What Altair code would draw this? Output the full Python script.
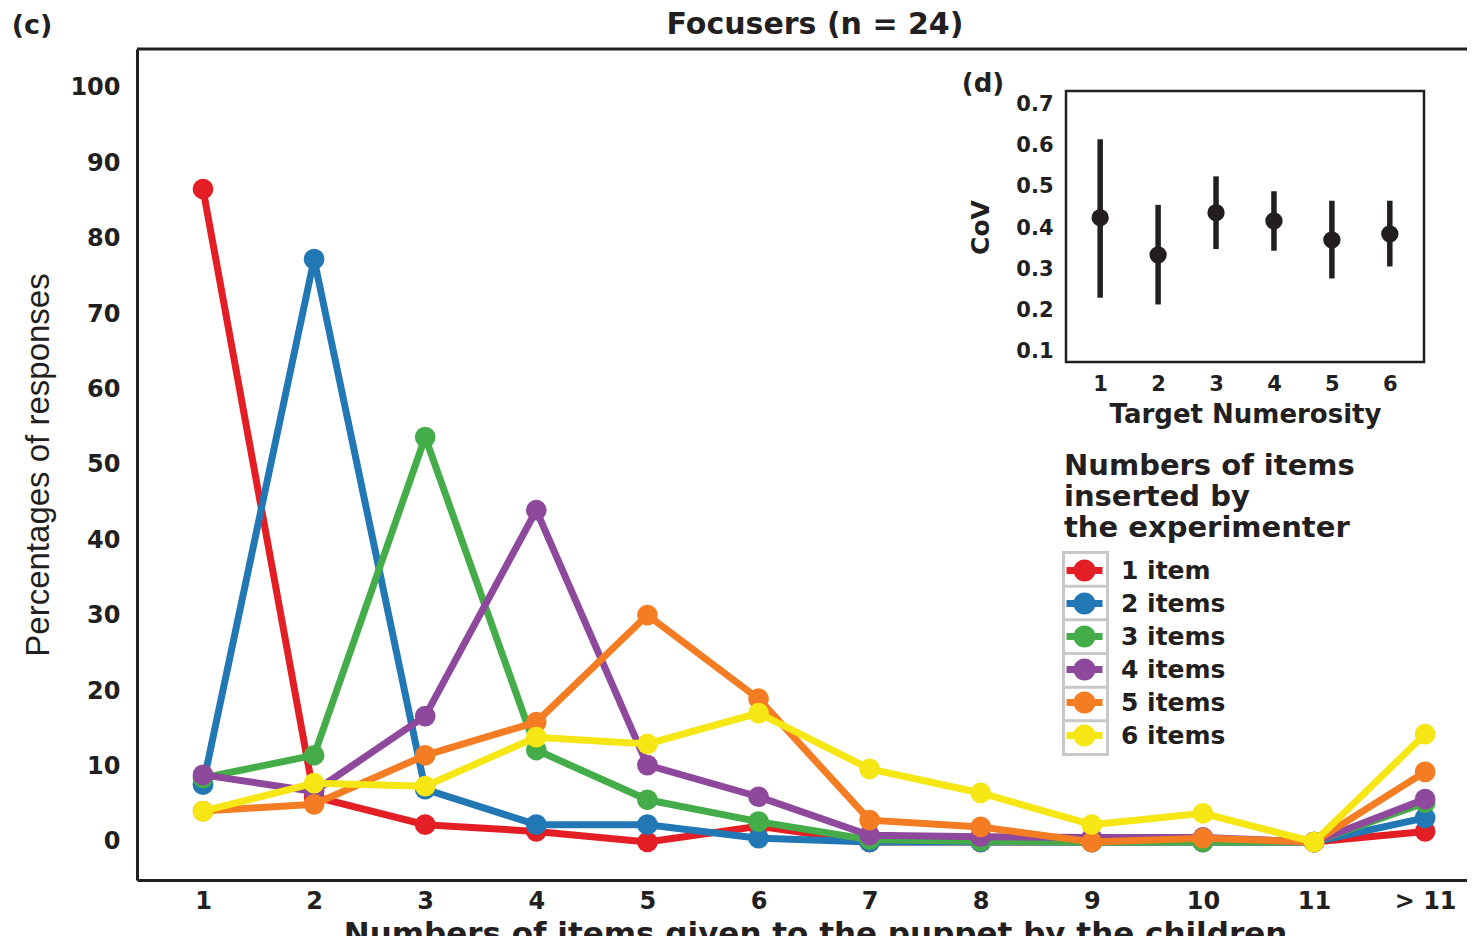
import altair as alt
import pandas as pd

# ---------------- data ----------------
X_POS = list(range(1, 13))
X_LABELS = ["1", "2", "3", "4", "5", "6", "7", "8", "9", "10", "11", "> 11"]
SERIES = ["1 item", "2 items", "3 items", "4 items", "5 items", "6 items"]
COLORS = ["#e31e24", "#2277b5", "#44ad4a", "#8e489c", "#f47d23", "#f5e614"]

ITEM1 = [86.6, 6.0, 2.3, 1.4, 0.0, 2.1, 0.0, 0.0, 0.0, 0.0, 0.0, 1.4]
ITEM2 = [7.6, 77.3, 7.0, 2.3, 2.3, 0.5, 0.0, 0.0, 0.0, 0.0, 0.0, 3.2]
ITEM3 = [8.5, 11.5, 53.7, 12.2, 5.6, 2.7, 0.3, 0.1, 0.0, 0.0, 0.0, 5.2]
ITEM4 = [8.9, 6.7, 16.7, 44.0, 10.2, 6.0, 0.9, 0.7, 0.6, 0.6, 0.0, 5.7]
ITEM5 = [4.1, 5.0, 11.5, 15.9, 30.1, 19.0, 2.9, 2.0, 0.0, 0.5, 0.0, 9.3]
ITEM6 = [4.1, 7.8, 7.4, 13.9, 13.0, 17.1, 9.7, 6.5, 2.3, 3.8, 0.0, 14.3]

COV_X = [1, 2, 3, 4, 5, 6]
COV = [0.425, 0.335, 0.437, 0.417, 0.371, 0.386]
COV_LO = [0.231, 0.215, 0.349, 0.345, 0.278, 0.307]
COV_HI = [0.615, 0.456, 0.525, 0.489, 0.466, 0.466]

# ---------------- layout constants ----------------
W, H = 1330, 831
FONT = "DejaVu Sans"
INK = "#231f20"
MAIN_X_DOMAIN = [0.406, 12.377]
MAIN_Y_DOMAIN = [-5.04, 105.17]
INSET_X_DOMAIN = [0.41, 6.59]
INSET_Y_DOMAIN = [0.0758, 0.7315]
INSET_X_RANGE = [929, 1287]
INSET_Y_RANGE = [313, 42]

rows = []
for s, vals in zip(SERIES, [ITEM1, ITEM2, ITEM3, ITEM4, ITEM5, ITEM6]):
    for xp, v in zip(X_POS, vals):
        rows.append({"series": s, "box": "legend frame", "xpos": xp, "value": v})
df = pd.DataFrame(rows)

cov_df = pd.DataFrame({"tn": COV_X, "cov": COV, "lo": COV_LO, "hi": COV_HI})
frame_df = pd.DataFrame({"fx0": [INSET_X_DOMAIN[0]], "fx1": [INSET_X_DOMAIN[1]],
                         "fy0": [INSET_Y_DOMAIN[0]], "fy1": [INSET_Y_DOMAIN[1]]})
one = pd.DataFrame({"k": [0]})

label_expr = "[" + ",".join("'%s'" % l for l in X_LABELS) + "][datum.value - 1]"

x_main_scale = alt.Scale(domain=MAIN_X_DOMAIN, nice=False, zero=False)
y_main_scale = alt.Scale(domain=MAIN_Y_DOMAIN, nice=False, zero=False)
x_main_axis = alt.Axis(values=X_POS, labelExpr=label_expr, ticks=False, grid=False,
                       domainColor=INK, domainWidth=3,
                       labelFont=FONT, labelFontSize=24, labelFontWeight="bold",
                       labelColor=INK, labelPadding=9,
                       title="Numbers of items given to the puppet by the children",
                       titleFont=FONT, titleFontSize=31, titleFontWeight="bold",
                       titleColor=INK, titleX=678, titleY=63, titleAlign="center",
                       titleBaseline="alphabetic", titleLimit=1300)
y_main_axis = alt.Axis(values=list(range(0, 101, 10)), ticks=False, grid=False,
                       domainColor=INK, domainWidth=3,
                       labelFont=FONT, labelFontSize=24, labelFontWeight="bold",
                       labelColor=INK, labelPadding=17,
                       title="Percentages of responses",
                       titleFont="Liberation Sans", titleFontSize=33,
                       titleFontWeight="normal", titleColor=INK,
                       titleX=-99, titleY=415.5, titleAngle=270,
                       titleAlign="center", titleBaseline="middle", titleLimit=800)

SYMBOL_PATH = ("M-1.5,-0.29H1.5V0.29H-1.5Z "
               "M0.92,0A0.92,0.92 0 1,1 -0.92,0A0.92,0.92 0 1,1 0.92,0Z")
# one stroked frame with dividers, drawn behind the six legend symbols
FRAME_PATH = ("M-2.2,-10.1H2.2V10.1H-2.2Z "
              "M-2.2,-6.73H2.2 M-2.2,-3.37H2.2 M-2.2,0H2.2 "
              "M-2.2,3.37H2.2 M-2.2,6.73H2.2")

color_scale = alt.Scale(domain=SERIES, range=COLORS)
color_legend = alt.Legend(
    title=["Numbers of items", "inserted by", "the experimenter"],
    orient="none", legendX=927, legendY=403, padding=0,
    titleFont=FONT, titleFontSize=29, titleFontWeight="bold", titleColor=INK,
    titleLineHeight=31, titlePadding=15, titleAnchor="start", titleLimit=500,
    labelFont=FONT, labelFontSize=25, labelFontWeight="bold", labelColor=INK,
    labelOffset=24, symbolOffset=8, symbolSize=576, symbolType=SYMBOL_PATH,
    symbolStrokeWidth=0, symbolOpacity=1, rowPadding=7, labelLimit=300,
)

main_layers = []
for s, c in zip(SERIES, COLORS):
    base = alt.Chart(df).transform_filter(alt.datum.series == s)
    main_layers.append(
        base.mark_line(strokeWidth=7, color=c).encode(
            x=alt.X("xpos:Q", scale=x_main_scale, axis=x_main_axis),
            y=alt.Y("value:Q", scale=y_main_scale, axis=y_main_axis),
        )
    )
    main_layers.append(
        base.mark_circle(size=430, opacity=1).encode(
            x=alt.X("xpos:Q", scale=x_main_scale, axis=x_main_axis),
            y=alt.Y("value:Q", scale=y_main_scale, axis=y_main_axis),
            color=alt.Color("series:N", scale=color_scale, legend=color_legend),
        )
    )

# grey frame behind the legend symbols (label-less one-entry legend; marks have size 0)
box_layer = alt.Chart(df).mark_point(size=0, filled=False, color="#c8c8c8",
                                     strokeWidth=0).encode(
    x=alt.X("xpos:Q", scale=x_main_scale, axis=x_main_axis),
    y=alt.Y("value:Q", scale=y_main_scale, axis=y_main_axis),
    shape=alt.Shape(
        "box:N",
        scale=alt.Scale(domain=["legend frame"], range=[FRAME_PATH]),
        legend=alt.Legend(
            title=None, orient="none", legendX=937, legendY=593, padding=0,
            labelExpr="''", labelFontSize=1, symbolSize=400, rowPadding=0,
            symbolStrokeColor="#c8c8c8", symbolStrokeWidth=3,
            symbolFillColor="transparent", symbolOpacity=1,
        ),
    ),
)

top_border = alt.Chart(one).mark_rule(color=INK, strokeWidth=3).encode(
    x=alt.value(0), x2=alt.value(W), y=alt.value(0)
)
panel_c = alt.Chart(one).mark_text(
    text="(c)", font=FONT, fontSize=27, fontWeight="bold", color=INK,
    align="center", baseline="middle"
).encode(x=alt.value(-105), y=alt.value(-23))
main_title = alt.Chart(one).mark_text(
    text="Focusers (n = 24)", font=FONT, fontSize=30, fontWeight="bold", color=INK,
    align="center", baseline="middle"
).encode(x=alt.value(678), y=alt.value(-24))
panel_d = alt.Chart(one).mark_text(
    text="(d)", font=FONT, fontSize=26, fontWeight="bold", color=INK,
    align="center", baseline="middle"
).encode(x=alt.value(846), y=alt.value(35))

main = alt.layer(box_layer, *main_layers, top_border, panel_c, main_title, panel_d)

# ---------------- inset (d) ----------------
x_in_scale = alt.Scale(domain=INSET_X_DOMAIN, range=INSET_X_RANGE, nice=False, zero=False)
y_in_scale = alt.Scale(domain=INSET_Y_DOMAIN, range=INSET_Y_RANGE, nice=False, zero=False)
x_in_axis = alt.Axis(orient="bottom", offset=-518, values=COV_X, format="d",
                     ticks=False, domain=False, grid=False,
                     labelFont=FONT, labelFontSize=21, labelFontWeight="bold",
                     labelColor=INK, labelPadding=11,
                     title="Target Numerosity", titleFont=FONT, titleFontSize=26,
                     titleFontWeight="bold", titleColor=INK,
                     titleX=1108, titleY=52, titleAlign="center", titleBaseline="middle")
y_in_axis = alt.Axis(orient="left", offset=-929,
                     values=[0.1, 0.2, 0.3, 0.4, 0.5, 0.6, 0.7], format=".1f",
                     ticks=False, domain=False, grid=False,
                     labelFont=FONT, labelFontSize=21, labelFontWeight="bold",
                     labelColor=INK, labelPadding=13,
                     title="CoV", titleFont=FONT, titleFontSize=25,
                     titleFontWeight="bold", titleColor=INK,
                     titleX=-86, titleY=178, titleAngle=270,
                     titleAlign="center", titleBaseline="middle")

frame = alt.Chart(frame_df).mark_rect(fill="transparent", stroke=INK, strokeWidth=2.5).encode(
    x=alt.X("fx0:Q", scale=x_in_scale, axis=x_in_axis),
    x2="fx1:Q",
    y=alt.Y("fy0:Q", scale=y_in_scale, axis=y_in_axis),
    y2="fy1:Q",
)
err = alt.Chart(cov_df).mark_rule(color=INK, strokeWidth=5.5).encode(
    x=alt.X("tn:Q", scale=x_in_scale, axis=x_in_axis),
    y=alt.Y("lo:Q", scale=y_in_scale, axis=y_in_axis),
    y2="hi:Q",
)
dots = alt.Chart(cov_df).mark_circle(color=INK, size=300, opacity=1).encode(
    x=alt.X("tn:Q", scale=x_in_scale, axis=x_in_axis),
    y=alt.Y("cov:Q", scale=y_in_scale, axis=y_in_axis),
)
inset = alt.layer(frame, err, dots)

chart = (
    alt.layer(main, inset)
    .resolve_scale(x="independent", y="independent")
    .properties(
        width=W, height=H,
        padding={"left": 129, "top": 41, "right": 0, "bottom": 56},
        autosize=alt.AutoSizeParams(type="none"),
        background="white",
    )
    .configure_view(stroke=None)
    .configure_axis(grid=False)
)

chart.save("out.html", embed_options={"renderer": "svg", "actions": False})
